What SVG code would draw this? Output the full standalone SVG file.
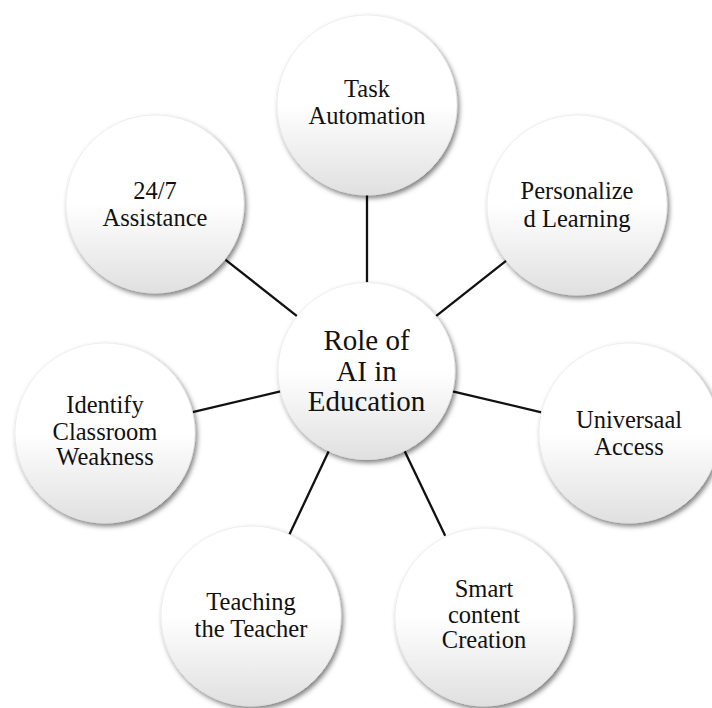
<svg xmlns="http://www.w3.org/2000/svg" width="712" height="708" viewBox="0 0 712 708">
<defs>
<linearGradient id="g" x1="0" y1="0" x2="0" y2="1">
<stop offset="0" stop-color="#ffffff"/>
<stop offset="0.5" stop-color="#ffffff"/>
<stop offset="1" stop-color="#e0e0e0"/>
</linearGradient>
<filter id="sh" x="-20%" y="-20%" width="145%" height="145%">
<feDropShadow dx="2" dy="3" stdDeviation="2.5" flood-color="#000" flood-opacity="0.5"/>
</filter>
</defs>
<style>
.node circle{fill:url(#g);stroke:#e4e4e4;stroke-width:0.6;filter:url(#sh)}
.node text{font-family:'Liberation Serif','Times New Roman',serif;font-size:24.5px;fill:#111;text-anchor:middle}
#center text{font-size:29px}
.conn line{stroke:#111;stroke-width:2.3}
</style>
<rect width="712" height="708" fill="#fff"/>
<g class="conn" id="connectors">
<line x1="367" y1="195" x2="367" y2="282.5"/>
<line x1="436" y1="316.2" x2="506.3" y2="260.7"/>
<line x1="297" y1="316.2" x2="225.6" y2="259.8"/>
<line x1="280.4" y1="391.4" x2="192.6" y2="412.2"/>
<line x1="452.6" y1="391.3" x2="541.4" y2="412.3"/>
<line x1="404.6" y1="450.9" x2="445.2" y2="535.8"/>
<line x1="328.8" y1="451" x2="289.4" y2="534.6"/>
</g>
<g class="node" id="center">
<circle cx="366.5" cy="371" r="88.5"/>
<text x="366.5" y="350">Role of</text>
<text x="366.5" y="381">AI in</text>
<text x="366.5" y="411">Education</text>
</g>
<g class="node" id="task">
<circle cx="367" cy="105" r="90"/>
<text x="367" y="97">Task</text>
<text x="367" y="124">Automation</text>
</g>
<g class="node" id="personalized">
<circle cx="577" cy="205" r="90"/>
<text x="577" y="199">Personalize</text>
<text x="577" y="227">d Learning</text>
</g>
<g class="node" id="assistance">
<circle cx="155" cy="204" r="89"/>
<text x="155" y="199">24/7</text>
<text x="155" y="226">Assistance</text>
</g>
<g class="node" id="identify">
<circle cx="105" cy="433" r="90"/>
<text x="105" y="413">Identify</text>
<text x="105" y="440">Classroom</text>
<text x="105" y="465">Weakness</text>
</g>
<g class="node" id="universal">
<circle cx="629" cy="433" r="90"/>
<text x="629" y="428">Universaal</text>
<text x="629" y="455">Access</text>
</g>
<g class="node" id="smart">
<circle cx="484" cy="617" r="89"/>
<text x="484" y="597">Smart</text>
<text x="484" y="623">content</text>
<text x="484" y="648">Creation</text>
</g>
<g class="node" id="teaching">
<circle cx="251" cy="616" r="90"/>
<text x="251" y="610">Teaching</text>
<text x="251" y="637">the Teacher</text>
</g>
</svg>
